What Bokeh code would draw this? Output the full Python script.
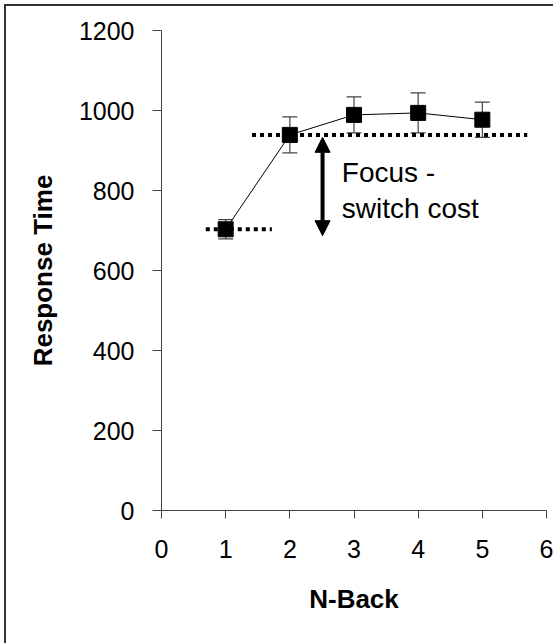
from bokeh.plotting import figure
from bokeh.models import (ColumnDataSource, Whisker, TeeHead, Arrow, NormalHead,
                          FixedTicker, Range1d)
from bokeh.core.properties import value
from bokeh.embed import file_html
from bokeh.resources import INLINE

# ---- data ----
nback = [1, 2, 3, 4, 5]
response_time = [703, 939, 989, 994, 977]
error = [24, 45, 45, 50, 44]
x_ticks = [0, 1, 2, 3, 4, 5, 6]
y_ticks = [0, 200, 400, 600, 800, 1000, 1200]

# reference levels (dotted lines) and annotation
upper_level_x = [1.41, 5.70]
lower_level_x = [0.69, 1.72]
arrow_x = 2.51
arrow_y = [687, 933]
note_x = 2.81
note_lines = ["Focus -", "switch cost"]
note_y = [846, 754]

FONT = "Liberation Sans"

p = figure(width=553, height=643, output_backend="svg", toolbar_location=None,
           x_range=Range1d(0, 6), y_range=Range1d(0, 1200),
           min_border_left=161, min_border_right=7,
           min_border_top=30, min_border_bottom=133)
p.outline_line_color = None
p.xgrid.visible = False
p.ygrid.visible = False
p.background_fill_color = "white"
p.border_fill_color = None
# outer frame edges (top and left only, as in the picture) drawn behind a transparent border area
p.styles = {
    "background": ("linear-gradient(#333333, #333333) 4px 4px / 2px 639px no-repeat, "
                   "linear-gradient(#333333, #333333) 4px 4px / 549px 2px no-repeat, "
                   "#ffffff"),
}

src = ColumnDataSource(dict(
    x=nback, y=response_time,
    upper=[v + e for v, e in zip(response_time, error)],
    lower=[v - e for v, e in zip(response_time, error)],
))

# error bars
p.add_layout(Whisker(source=src, base="x", upper="upper", lower="lower",
                     line_color="#444444", line_width=1.2,
                     upper_head=TeeHead(size=15, line_color="#444444", line_width=1.2),
                     lower_head=TeeHead(size=15, line_color="#444444", line_width=1.2)))

# connecting line
p.line("x", "y", source=src, line_color="black", line_width=1)

# dotted reference levels
p.line(upper_level_x, [response_time[1]] * 2, line_color="black", line_width=4,
       line_dash="4 4", line_cap="butt")
p.line(lower_level_x, [response_time[0]] * 2, line_color="black", line_width=4,
       line_dash="4 4", line_cap="butt")

# markers
p.scatter("x", "y", source=src, marker="square", size=15,
          fill_color="black", line_color="black")

# double arrow
p.add_layout(Arrow(x_start=arrow_x, y_start=arrow_y[0], x_end=arrow_x, y_end=arrow_y[1],
                   line_width=4, line_color="black",
                   start=NormalHead(size=15, fill_color="black", line_color="black", line_width=1),
                   end=NormalHead(size=15, fill_color="black", line_color="black", line_width=1)))

# annotation text
p.text(x=[note_x] * 2, y=note_y, text=note_lines, text_font=value(FONT),
       text_font_size="28px", text_color="black", text_baseline="alphabetic",
       text_align="left")

# axes
for ax in (p.xaxis[0], p.yaxis[0]):
    ax.axis_line_color = "#444444"
    ax.axis_line_width = 1
    ax.major_tick_line_color = "#444444"
    ax.major_tick_in = 0
    ax.minor_tick_line_color = None
    ax.major_label_text_font = FONT
    ax.major_label_text_font_size = "25px"
    ax.major_label_text_color = "black"
    ax.axis_label_text_font = FONT
    ax.axis_label_text_font_size = "26px"
    ax.axis_label_text_font_style = "bold"
    ax.axis_label_text_color = "black"

p.xaxis.ticker = FixedTicker(ticks=x_ticks)
p.yaxis.ticker = FixedTicker(ticks=y_ticks)
p.xaxis.major_tick_out = 8
p.yaxis.major_tick_out = 9
p.xaxis.major_label_standoff = 21
p.yaxis.major_label_standoff = 18
p.xaxis.axis_label = "N-Back"
p.yaxis.axis_label = "Response Time"
p.xaxis.axis_label_standoff = 23
p.yaxis.axis_label_standoff = 18

open("out.html", "w").write(file_html(p, INLINE))
